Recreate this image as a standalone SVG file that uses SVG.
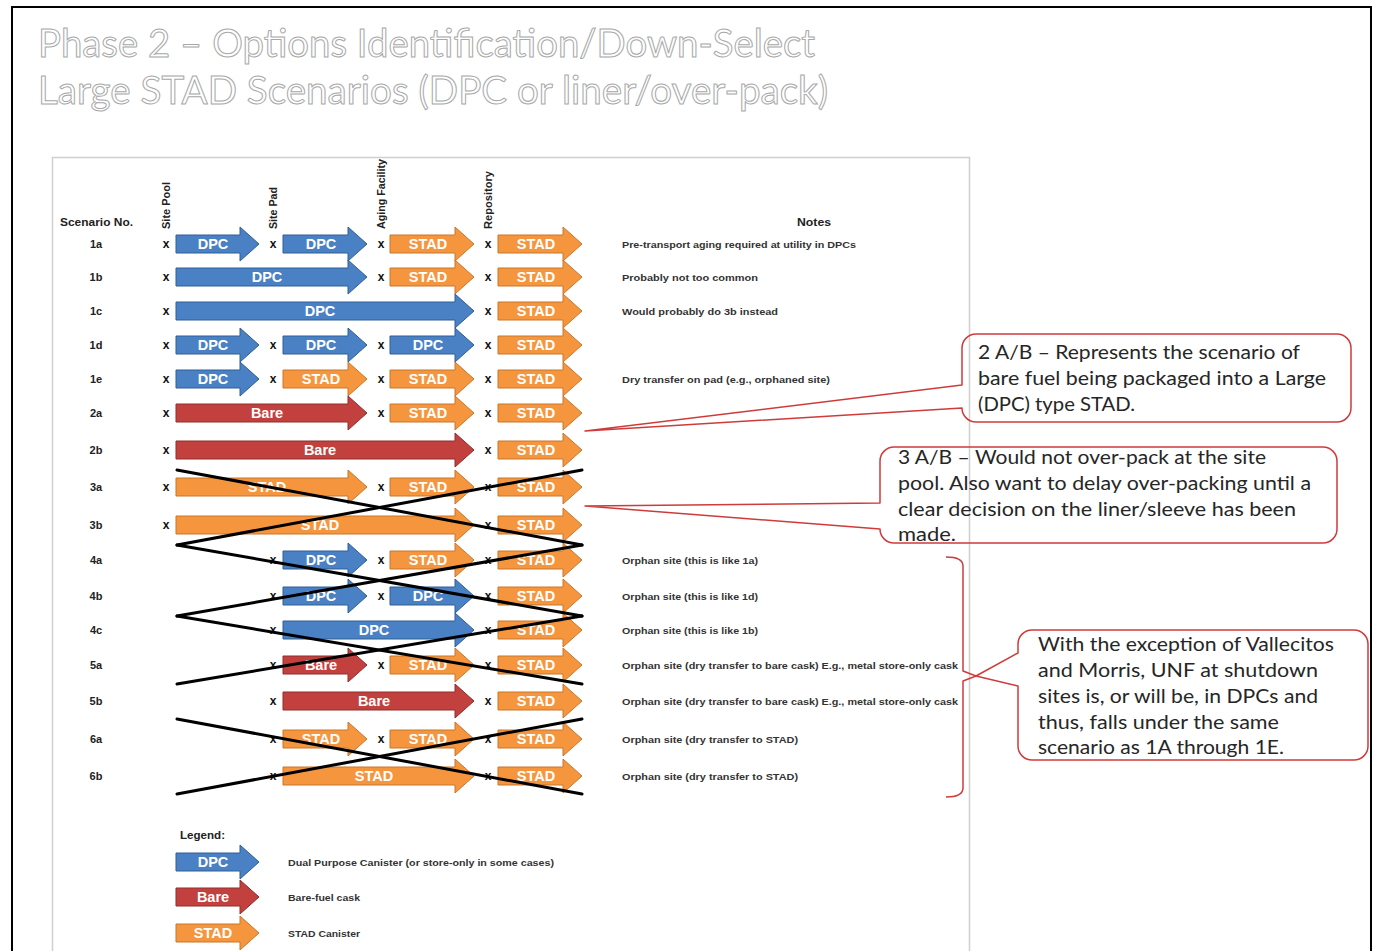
<svg xmlns="http://www.w3.org/2000/svg" xmlns:xlink="http://www.w3.org/1999/xlink" width="1377" height="951" viewBox="0 0 1377 951">
  <style>
    .title { font-family: Lato, "Open Sans", sans-serif; font-size: 38px; fill: #ffffff; stroke: #a8a8a8; stroke-width: 1; }
    .hdr { font-family: "Liberation Sans", Arial, sans-serif; font-weight: bold; font-size: 10.5px; fill: #222; }
    .lbl { font-family: "Liberation Sans", Arial, sans-serif; font-weight: bold; font-size: 11px; fill: #222; text-anchor: middle; }
    .xm { font-family: "Liberation Sans", Arial, sans-serif; font-weight: bold; font-size: 12px; fill: #111; text-anchor: middle; }
    .note { font-family: "Liberation Sans", Arial, sans-serif; font-weight: bold; font-size: 9.5px; fill: #333; }
    .al { font-family: "Liberation Sans", Arial, sans-serif; font-weight: bold; font-size: 14.5px; fill: #ffffff; text-anchor: middle; }
    .dpc { fill: #4a81c4; stroke: #2f5f96; stroke-width: 1; }
    .bare { fill: #c2413e; stroke: #8e2e2c; stroke-width: 1; }
    .stad { fill: #f5963f; stroke: #c9762d; stroke-width: 1; }
    .strike { stroke: #000; stroke-width: 3; fill: none; stroke-linecap: round; }
    .callout { fill: none; stroke: #cf3b3b; stroke-width: 1.5; stroke-linejoin: round; }
    .ctext { font-family: Lato, "Open Sans", sans-serif; font-size: 19.5px; fill: #262626; }
  </style>
  <defs>
    <!-- block arrows, drawn around y=0 and shifted per row -->
    <polygon id="segA" points="176,-9 240,-9 240,-17 259,0 240,17 240,9 176,9"/>
    <polygon id="segB" points="283,-9 348,-9 348,-17 367,0 348,17 348,9 283,9"/>
    <polygon id="segC" points="390,-9 455,-9 455,-17 474,0 455,17 455,9 390,9"/>
    <polygon id="segD" points="498,-9 563,-9 563,-17 582,0 563,17 563,9 498,9"/>
    <polygon id="segAB" points="176,-9 348,-9 348,-17 367,0 348,17 348,9 176,9"/>
    <polygon id="segAC" points="176,-9 455,-9 455,-17 474,0 455,17 455,9 176,9"/>
    <polygon id="segBC" points="283,-9 455,-9 455,-17 474,0 455,17 455,9 283,9"/>
  </defs>

  <rect x="0" y="0" width="1377" height="951" fill="#ffffff"/>

  <!-- title -->
  <g id="title">
    <text class="title" x="38" y="57" textLength="777" lengthAdjust="spacingAndGlyphs">Phase 2 – Options Identification/Down-Select</text>
    <text class="title" x="38" y="104" textLength="790" lengthAdjust="spacingAndGlyphs">Large STAD Scenarios (DPC or liner/over-pack)</text>
  </g>

  <!-- table panel -->
  <rect id="panel" x="52.5" y="157.5" width="917" height="820" fill="none" stroke="#cfcfcf" stroke-width="1.5"/>

  <!-- column headers -->
  <g id="headers">
    <text class="hdr" x="60" y="226" textLength="73" lengthAdjust="spacingAndGlyphs">Scenario No.</text>
    <text class="hdr" transform="translate(170,229) rotate(-90)" textLength="47" lengthAdjust="spacingAndGlyphs">Site Pool</text>
    <text class="hdr" transform="translate(277,229) rotate(-90)" textLength="42" lengthAdjust="spacingAndGlyphs">Site Pad</text>
    <text class="hdr" transform="translate(385,229) rotate(-90)" textLength="70" lengthAdjust="spacingAndGlyphs">Aging Facility</text>
    <text class="hdr" transform="translate(492,229) rotate(-90)" textLength="58" lengthAdjust="spacingAndGlyphs">Repository</text>
    <text class="hdr" x="797" y="226" textLength="34" lengthAdjust="spacingAndGlyphs">Notes</text>
  </g>

  <!-- scenario rows -->
  <g id="row-1a" transform="translate(0,244)">
    <text class="lbl" x="96" y="4">1a</text>
    <text class="xm" x="166" y="4">x</text><text class="xm" x="273" y="4">x</text><text class="xm" x="381" y="4">x</text><text class="xm" x="488" y="4">x</text>
    <use href="#segA" class="dpc"/><use href="#segB" class="dpc"/><use href="#segC" class="stad"/><use href="#segD" class="stad"/>
    <text class="al" x="213" y="5">DPC</text><text class="al" x="321" y="5">DPC</text><text class="al" x="428" y="5">STAD</text><text class="al" x="536" y="5">STAD</text>
    <text class="note" x="622" y="4" textLength="234" lengthAdjust="spacingAndGlyphs">Pre-transport aging required at utility in DPCs</text>
  </g>
  <g id="row-1b" transform="translate(0,277)">
    <text class="lbl" x="96" y="4">1b</text>
    <text class="xm" x="166" y="4">x</text><text class="xm" x="381" y="4">x</text><text class="xm" x="488" y="4">x</text>
    <use href="#segAB" class="dpc"/><use href="#segC" class="stad"/><use href="#segD" class="stad"/>
    <text class="al" x="267" y="5">DPC</text><text class="al" x="428" y="5">STAD</text><text class="al" x="536" y="5">STAD</text>
    <text class="note" x="622" y="4" textLength="136" lengthAdjust="spacingAndGlyphs">Probably not too common</text>
  </g>
  <g id="row-1c" transform="translate(0,311)">
    <text class="lbl" x="96" y="4">1c</text>
    <text class="xm" x="166" y="4">x</text><text class="xm" x="488" y="4">x</text>
    <use href="#segAC" class="dpc"/><use href="#segD" class="stad"/>
    <text class="al" x="320" y="5">DPC</text><text class="al" x="536" y="5">STAD</text>
    <text class="note" x="622" y="4" textLength="156" lengthAdjust="spacingAndGlyphs">Would probably do 3b instead</text>
  </g>
  <g id="row-1d" transform="translate(0,345)">
    <text class="lbl" x="96" y="4">1d</text>
    <text class="xm" x="166" y="4">x</text><text class="xm" x="273" y="4">x</text><text class="xm" x="381" y="4">x</text><text class="xm" x="488" y="4">x</text>
    <use href="#segA" class="dpc"/><use href="#segB" class="dpc"/><use href="#segC" class="dpc"/><use href="#segD" class="stad"/>
    <text class="al" x="213" y="5">DPC</text><text class="al" x="321" y="5">DPC</text><text class="al" x="428" y="5">DPC</text><text class="al" x="536" y="5">STAD</text>
  </g>
  <g id="row-1e" transform="translate(0,379)">
    <text class="lbl" x="96" y="4">1e</text>
    <text class="xm" x="166" y="4">x</text><text class="xm" x="273" y="4">x</text><text class="xm" x="381" y="4">x</text><text class="xm" x="488" y="4">x</text>
    <use href="#segA" class="dpc"/><use href="#segB" class="stad"/><use href="#segC" class="stad"/><use href="#segD" class="stad"/>
    <text class="al" x="213" y="5">DPC</text><text class="al" x="321" y="5">STAD</text><text class="al" x="428" y="5">STAD</text><text class="al" x="536" y="5">STAD</text>
    <text class="note" x="622" y="4" textLength="208" lengthAdjust="spacingAndGlyphs">Dry transfer on pad (e.g., orphaned site)</text>
  </g>
  <g id="row-2a" transform="translate(0,413)">
    <text class="lbl" x="96" y="4">2a</text>
    <text class="xm" x="166" y="4">x</text><text class="xm" x="381" y="4">x</text><text class="xm" x="488" y="4">x</text>
    <use href="#segAB" class="bare"/><use href="#segC" class="stad"/><use href="#segD" class="stad"/>
    <text class="al" x="267" y="5">Bare</text><text class="al" x="428" y="5">STAD</text><text class="al" x="536" y="5">STAD</text>
  </g>
  <g id="row-2b" transform="translate(0,450)">
    <text class="lbl" x="96" y="4">2b</text>
    <text class="xm" x="166" y="4">x</text><text class="xm" x="488" y="4">x</text>
    <use href="#segAC" class="bare"/><use href="#segD" class="stad"/>
    <text class="al" x="320" y="5">Bare</text><text class="al" x="536" y="5">STAD</text>
  </g>
  <g id="row-3a" transform="translate(0,487)">
    <text class="lbl" x="96" y="4">3a</text>
    <text class="xm" x="166" y="4">x</text><text class="xm" x="381" y="4">x</text><text class="xm" x="488" y="4">x</text>
    <use href="#segAB" class="stad"/><use href="#segC" class="stad"/><use href="#segD" class="stad"/>
    <text class="al" x="267" y="5">STAD</text><text class="al" x="428" y="5">STAD</text><text class="al" x="536" y="5">STAD</text>
  </g>
  <g id="row-3b" transform="translate(0,525)">
    <text class="lbl" x="96" y="4">3b</text>
    <text class="xm" x="166" y="4">x</text><text class="xm" x="488" y="4">x</text>
    <use href="#segAC" class="stad"/><use href="#segD" class="stad"/>
    <text class="al" x="320" y="5">STAD</text><text class="al" x="536" y="5">STAD</text>
  </g>
  <g id="row-4a" transform="translate(0,560)">
    <text class="lbl" x="96" y="4">4a</text>
    <text class="xm" x="273" y="4">x</text><text class="xm" x="381" y="4">x</text><text class="xm" x="488" y="4">x</text>
    <use href="#segB" class="dpc"/><use href="#segC" class="stad"/><use href="#segD" class="stad"/>
    <text class="al" x="321" y="5">DPC</text><text class="al" x="428" y="5">STAD</text><text class="al" x="536" y="5">STAD</text>
    <text class="note" x="622" y="4" textLength="136" lengthAdjust="spacingAndGlyphs">Orphan site (this is like 1a)</text>
  </g>
  <g id="row-4b" transform="translate(0,596)">
    <text class="lbl" x="96" y="4">4b</text>
    <text class="xm" x="273" y="4">x</text><text class="xm" x="381" y="4">x</text><text class="xm" x="488" y="4">x</text>
    <use href="#segB" class="dpc"/><use href="#segC" class="dpc"/><use href="#segD" class="stad"/>
    <text class="al" x="321" y="5">DPC</text><text class="al" x="428" y="5">DPC</text><text class="al" x="536" y="5">STAD</text>
    <text class="note" x="622" y="4" textLength="136" lengthAdjust="spacingAndGlyphs">Orphan site (this is like 1d)</text>
  </g>
  <g id="row-4c" transform="translate(0,630)">
    <text class="lbl" x="96" y="4">4c</text>
    <text class="xm" x="273" y="4">x</text><text class="xm" x="488" y="4">x</text>
    <use href="#segBC" class="dpc"/><use href="#segD" class="stad"/>
    <text class="al" x="374" y="5">DPC</text><text class="al" x="536" y="5">STAD</text>
    <text class="note" x="622" y="4" textLength="136" lengthAdjust="spacingAndGlyphs">Orphan site (this is like 1b)</text>
  </g>
  <g id="row-5a" transform="translate(0,665)">
    <text class="lbl" x="96" y="4">5a</text>
    <text class="xm" x="273" y="4">x</text><text class="xm" x="381" y="4">x</text><text class="xm" x="488" y="4">x</text>
    <use href="#segB" class="bare"/><use href="#segC" class="stad"/><use href="#segD" class="stad"/>
    <text class="al" x="321" y="5">Bare</text><text class="al" x="428" y="5">STAD</text><text class="al" x="536" y="5">STAD</text>
    <text class="note" x="622" y="4" textLength="336" lengthAdjust="spacingAndGlyphs">Orphan site (dry transfer to bare cask) E.g., metal store-only cask</text>
  </g>
  <g id="row-5b" transform="translate(0,701)">
    <text class="lbl" x="96" y="4">5b</text>
    <text class="xm" x="273" y="4">x</text><text class="xm" x="488" y="4">x</text>
    <use href="#segBC" class="bare"/><use href="#segD" class="stad"/>
    <text class="al" x="374" y="5">Bare</text><text class="al" x="536" y="5">STAD</text>
    <text class="note" x="622" y="4" textLength="336" lengthAdjust="spacingAndGlyphs">Orphan site (dry transfer to bare cask) E.g., metal store-only cask</text>
  </g>
  <g id="row-6a" transform="translate(0,739)">
    <text class="lbl" x="96" y="4">6a</text>
    <text class="xm" x="273" y="4">x</text><text class="xm" x="381" y="4">x</text><text class="xm" x="488" y="4">x</text>
    <use href="#segB" class="stad"/><use href="#segC" class="stad"/><use href="#segD" class="stad"/>
    <text class="al" x="321" y="5">STAD</text><text class="al" x="428" y="5">STAD</text><text class="al" x="536" y="5">STAD</text>
    <text class="note" x="622" y="4" textLength="176" lengthAdjust="spacingAndGlyphs">Orphan site (dry transfer to STAD)</text>
  </g>
  <g id="row-6b" transform="translate(0,776)">
    <text class="lbl" x="96" y="4">6b</text>
    <text class="xm" x="273" y="4">x</text><text class="xm" x="488" y="4">x</text>
    <use href="#segBC" class="stad"/><use href="#segD" class="stad"/>
    <text class="al" x="374" y="5">STAD</text><text class="al" x="536" y="5">STAD</text>
    <text class="note" x="622" y="4" textLength="176" lengthAdjust="spacingAndGlyphs">Orphan site (dry transfer to STAD)</text>
  </g>

  <!-- legend -->
  <g id="legend">
    <text class="hdr" x="180" y="839" textLength="45" lengthAdjust="spacingAndGlyphs">Legend:</text>
    <use href="#segA" class="dpc" y="862"/>
    <text class="al" x="213" y="867">DPC</text>
    <text class="note" x="288" y="866" textLength="266" lengthAdjust="spacingAndGlyphs">Dual Purpose Canister (or store-only in some cases)</text>
    <use href="#segA" class="bare" y="897"/>
    <text class="al" x="213" y="902">Bare</text>
    <text class="note" x="288" y="901" textLength="72" lengthAdjust="spacingAndGlyphs">Bare-fuel cask</text>
    <use href="#segA" class="stad" y="933"/>
    <text class="al" x="213" y="938">STAD</text>
    <text class="note" x="288" y="937" textLength="72" lengthAdjust="spacingAndGlyphs">STAD Canister</text>
  </g>

  <!-- connectors: strike-outs and grouping bracket -->
  <g id="connectors">
    <line class="strike" x1="177" y1="470" x2="582" y2="545"/>
    <line class="strike" x1="177" y1="545" x2="582" y2="470"/>
    <line class="strike" x1="177" y1="545" x2="582" y2="616"/>
    <line class="strike" x1="177" y1="616" x2="582" y2="545"/>
    <line class="strike" x1="177" y1="616" x2="582" y2="684"/>
    <line class="strike" x1="177" y1="684" x2="582" y2="616"/>
    <line class="strike" x1="177" y1="719" x2="582" y2="794"/>
    <line class="strike" x1="177" y1="794" x2="582" y2="719"/>
    <path class="callout" d="M 946,557 Q 963,557 963,566 V 671 L 976,676 L 963,681 V 788 Q 963,797 946,797"/>
  </g>

  <!-- callouts -->
  <g id="callout-2ab">
    <path class="callout" d="M 976,334 H 1337 A 14 14 0 0 1 1351,348 V 408 A 14 14 0 0 1 1337,422 H 976 A 14 14 0 0 1 962,408 L 585,431 L 962,385 V 348 A 14 14 0 0 1 976,334 Z"/>
    <text class="ctext" x="978" y="359" textLength="322" lengthAdjust="spacingAndGlyphs">2 A/B – Represents the scenario of</text>
    <text class="ctext" x="978" y="385" textLength="348" lengthAdjust="spacingAndGlyphs">bare fuel being packaged into a Large</text>
    <text class="ctext" x="978" y="411" textLength="157" lengthAdjust="spacingAndGlyphs">(DPC) type STAD.</text>
  </g>
  <g id="callout-3ab">
    <path class="callout" d="M 894,447 H 1323 A 14 14 0 0 1 1337,461 V 529 A 14 14 0 0 1 1323,543 H 894 A 14 14 0 0 1 880,529 L 585,506 L 880,503 V 461 A 14 14 0 0 1 894,447 Z"/>
    <text class="ctext" x="898" y="464" textLength="368" lengthAdjust="spacingAndGlyphs">3 A/B – Would not over-pack at the site</text>
    <text class="ctext" x="898" y="490" textLength="413" lengthAdjust="spacingAndGlyphs">pool. Also want to delay over-packing until a</text>
    <text class="ctext" x="898" y="516" textLength="398" lengthAdjust="spacingAndGlyphs">clear decision on the liner/sleeve has been</text>
    <text class="ctext" x="898" y="541" textLength="58" lengthAdjust="spacingAndGlyphs">made.</text>
  </g>
  <g id="callout-orphan">
    <path class="callout" d="M 1032,630 H 1354 A 14 14 0 0 1 1368,644 V 746 A 14 14 0 0 1 1354,760 H 1032 A 14 14 0 0 1 1018,746 V 686 L 976,676 L 1018,653 V 644 A 14 14 0 0 1 1032,630 Z"/>
    <text class="ctext" x="1038" y="651" textLength="296" lengthAdjust="spacingAndGlyphs">With the exception of Vallecitos</text>
    <text class="ctext" x="1038" y="677" textLength="280" lengthAdjust="spacingAndGlyphs">and Morris, UNF at shutdown</text>
    <text class="ctext" x="1038" y="703" textLength="280" lengthAdjust="spacingAndGlyphs">sites is, or will be, in DPCs and</text>
    <text class="ctext" x="1038" y="729" textLength="241" lengthAdjust="spacingAndGlyphs">thus, falls under the same</text>
    <text class="ctext" x="1038" y="754" textLength="246" lengthAdjust="spacingAndGlyphs">scenario as 1A through 1E.</text>
  </g>

  <!-- slide frame -->
  <rect id="frame" x="12" y="7" width="1359" height="960" fill="none" stroke="#000" stroke-width="2"/>
</svg>
